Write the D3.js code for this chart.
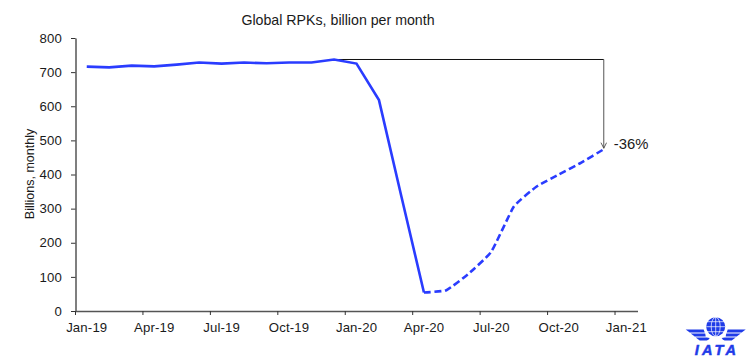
<!DOCTYPE html>
<html>
<head>
<meta charset="utf-8">
<script src="https://cdn.jsdelivr.net/npm/d3@7"></script>
<style>
  html, body { margin: 0; padding: 0; background: #fff; }
  svg { display: block; }
  text { font-family: "Liberation Sans", Arial, sans-serif; fill: #1a1a1a; }
</style>
</head>
<body>
<div id="chart"></div>
<script>
// DATA
const months = ["Jan-19","Feb-19","Mar-19","Apr-19","May-19","Jun-19","Jul-19","Aug-19","Sep-19","Oct-19","Nov-19","Dec-19",
  "Jan-20","Feb-20","Mar-20","Apr-20","May-20","Jun-20","Jul-20","Aug-20","Sep-20","Oct-20","Nov-20","Dec-20","Jan-21"];
const actualMonths = months.slice(0, 16);
const actualValues = [716,714,719,717,722,728,725,728,726,728,728,737,725,618,335,54];
const forecastMonths = months.slice(15, 24);
const forecastValues = [54,61,110,174,306,364,400,435,474];
const yTicks = [0,100,200,300,400,500,600,700,800];
const tickMonths = ["Jan-19","Apr-19","Jul-19","Oct-19","Jan-20","Apr-20","Jul-20","Oct-20","Jan-21"];
const peakMonth = "Dec-19";
const peakValue = 737;
const lastMonth = "Dec-20";
const lastValue = 474;

// DIMENSIONS
const width = 756;
const height = 360;
const margin = {top: 38, right: 118.5, bottom: 49, left: 75.5};
const lineColor = "#2a3cff";
const axisColor = "#555";

const svg = d3.select("#chart").append("svg")
  .attr("width", width)
  .attr("height", height);

// SCALES
const xScale = d3.scaleBand().domain(months).range([margin.left, width - margin.right]);
const yScale = d3.scaleLinear().domain([0, 800]).range([height - margin.bottom, margin.top]);
const xMid = d => xScale(d) + xScale.bandwidth() / 2;

// AXES
const yAxis = d3.axisLeft(yScale).tickValues(yTicks).tickSize(4.5).tickPadding(9).tickSizeOuter(0);
const yG = svg.append("g")
  .attr("transform", `translate(${margin.left}, 0)`)
  .call(yAxis);

const xAxis = d3.axisBottom(xScale).tickValues(tickMonths).tickSize(0).tickPadding(12).tickSizeOuter(0);
const xG = svg.append("g")
  .attr("transform", `translate(0, ${height - margin.bottom})`)
  .call(xAxis);
// ticks sit on band edges, labels stay centred in the band
xG.selectAll(".tick line")
  .attr("x1", -xScale.bandwidth() / 2)
  .attr("x2", -xScale.bandwidth() / 2)
  .attr("y2", 4);

[yG, xG].forEach(g => {
  g.selectAll(".domain").attr("stroke", axisColor).attr("stroke-width", 1.5);
  g.selectAll(".tick line").attr("stroke", "#333");
  g.selectAll("text").style("font-size", "13.2px").style("letter-spacing", "0.15px").attr("fill", "#1a1a1a");
});

// TITLES
svg.append("text")
  .attr("x", 338).attr("y", 25)
  .attr("text-anchor", "middle")
  .style("font-size", "14.2px")
  .text("Global RPKs, billion per month");

svg.append("text")
  .attr("transform", "translate(34, 174) rotate(-90)")
  .attr("text-anchor", "middle")
  .style("font-size", "12.5px")
  .text("Billions, monthly");

// PEAK LINE AND ARROW
svg.append("defs").append("marker")
  .attr("id", "open-arrow")
  .attr("viewBox", "0 0 10 10")
  .attr("refX", 9).attr("refY", 5)
  .attr("markerWidth", 7).attr("markerHeight", 7)
  .attr("markerUnits", "userSpaceOnUse")
  .attr("orient", "auto")
  .append("path")
    .attr("d", "M1,1 L9,5 L1,9")
    .attr("fill", "none")
    .attr("stroke", "#444")
    .attr("stroke-width", 1.2);

svg.append("line")
  .attr("x1", xMid(peakMonth)).attr("x2", xMid(lastMonth))
  .attr("y1", yScale(peakValue)).attr("y2", yScale(peakValue))
  .attr("stroke", "#111").attr("stroke-width", 1);

svg.append("line")
  .attr("x1", xMid(lastMonth)).attr("x2", xMid(lastMonth))
  .attr("y1", yScale(peakValue)).attr("y2", yScale(lastValue) - 1)
  .attr("stroke", "#555").attr("stroke-width", 1)
  .attr("marker-end", "url(#open-arrow)");

// SERIES
const lineGen = d3.line().x(d => xMid(d[0])).y(d => yScale(d[1]));

svg.append("path")
  .attr("d", lineGen(d3.zip(actualMonths, actualValues)))
  .attr("fill", "none")
  .attr("stroke", lineColor)
  .attr("stroke-width", 2.6);

svg.append("path")
  .attr("d", lineGen.curve(d3.curveCardinal.tension(0.6))(d3.zip(forecastMonths, forecastValues)))
  .attr("fill", "none")
  .attr("stroke", lineColor)
  .attr("stroke-width", 2.6)
  .attr("stroke-dasharray", "7 3.5");

svg.append("text")
  .attr("x", xMid(lastMonth) + 10).attr("y", yScale(lastValue) - 0.5)
  .style("font-size", "14.8px")
  .text("-36%");

// IATA LOGO
const logoColor = "#1f3be8";
const logo = svg.append("g").attr("id", "iata-logo");
const globeX = 715.7, globeY = 326.7, globeR = 9.5;
logo.append("circle").attr("cx", globeX).attr("cy", globeY).attr("r", globeR).attr("fill", logoColor);
const grid = logo.append("g").attr("fill", "none").attr("stroke", "#fff").attr("stroke-width", 0.7);
grid.append("ellipse").attr("cx", globeX).attr("cy", globeY).attr("rx", 4.5).attr("ry", globeR);
grid.append("line").attr("x1", globeX).attr("x2", globeX).attr("y1", globeY - globeR).attr("y2", globeY + globeR);
[-5, 0, 5].forEach(dy => {
  grid.append("line")
    .attr("x1", globeX - globeR).attr("x2", globeX + globeR)
    .attr("y1", globeY + dy).attr("y2", globeY + dy);
});
// wings: three tapering stripes each side, mirrored
[-1, 1].forEach(side => {
  const wing = logo.append("g").attr("transform", `translate(${globeX}, 0) scale(${side}, 1)`);
  [
    "M12,329.5 L30,329.5 L26,332.5 L11,332.5 Z",
    "M10.5,333.5 L25,333.5 L21,336.5 L10,336.5 Z",
    "M9,337.5 L20,337.5 L16,340.5 L9,340.5 Q7,340 6,338 Z"
  ].forEach(d => wing.append("path").attr("d", d).attr("fill", logoColor));
});
logo.append("text")
  .attr("x", 717).attr("y", 355)
  .attr("text-anchor", "middle")
  .style("font-size", "14.5px")
  .style("font-weight", "700")
  .style("font-style", "italic")
  .style("letter-spacing", "3.2px")
  .style("fill", logoColor)
  .style("stroke", logoColor)
  .style("stroke-width", "0.5px")
  .text("IATA");
</script>
</body>
</html>
